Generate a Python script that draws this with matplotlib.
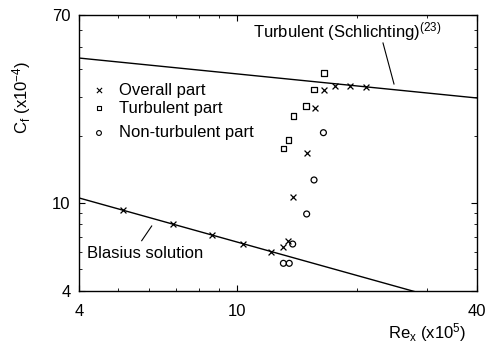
import matplotlib
matplotlib.use("Agg")
import matplotlib.pyplot as plt
from matplotlib.ticker import FixedLocator, NullFormatter, FixedFormatter

plt.rcParams['font.family'] = ['Liberation Sans', 'DejaVu Sans']
plt.rcParams['mathtext.fontset'] = 'custom'
plt.rcParams['mathtext.rm'] = 'Liberation Sans'
plt.rcParams['mathtext.it'] = 'Liberation Sans'

# Data (Re_x in 1e5, Cf in 1e-4)
overall_x = [5.17, 6.90, 8.62, 10.35, 12.15, 13.0, 13.43, 13.82, 14.93, 15.67, 16.53, 17.59, 19.19, 21.0]
overall_y = [9.27, 7.99, 7.17, 6.51, 5.98, 6.29, 6.74, 10.64, 16.68, 26.77, 32.2, 33.6, 33.6, 33.3]
turb_x = [13.05, 13.43, 13.82, 14.87, 15.6, 16.5]
turb_y = [17.57, 19.15, 24.56, 27.25, 32.4, 38.25]
nonturb_x = [13.05, 13.5, 13.77, 14.93, 15.58, 16.45]
nonturb_y = [5.33, 5.33, 6.51, 8.89, 12.65, 20.66]
schlichting_x = [4, 40]
schlichting_y = [44.8, 29.6]
blasius_x = [4, 40]
blasius_y = [10.5, 3.32]

fig = plt.figure(figsize=(4.86, 3.48), dpi=100)
ax = fig.add_axes([79/486, 1-291/348, (477-79)/486, (291-15)/348])
ax.set_xscale('log')
ax.set_yscale('log')
ax.set_xlim(4, 40)
ax.set_ylim(4, 70)

ax.plot(schlichting_x, schlichting_y, color='black', lw=1.0)
ax.plot(blasius_x, blasius_y, color='black', lw=1.0)

ax.scatter(overall_x, overall_y, marker='x', s=18, color='black', linewidths=0.9, zorder=3)
ax.scatter(turb_x, turb_y, marker='s', s=16, facecolors='none', edgecolors='black', linewidths=0.9, zorder=3)
ax.scatter(nonturb_x, nonturb_y, marker='o', s=18, facecolors='none', edgecolors='black', linewidths=0.9, zorder=3)

fs = 12

def px2ax(x, y):
    return ((x - 79) / 398, (291 - y) / 276)

# Legend (manual)
leg = [('x', 'Overall part', 90), ('s', 'Turbulent part', 108), ('o', 'Non-turbulent part', 133)]
for m, lab, py in leg:
    mx, my = px2ax(99, py)
    if m == 'x':
        ax.scatter([mx], [my], marker='x', s=14, color='black', linewidths=0.8, transform=ax.transAxes, clip_on=False)
    else:
        ax.scatter([mx], [my], marker=m, s=12, facecolors='none', edgecolors='black', linewidths=0.8, transform=ax.transAxes, clip_on=False)
    tx, ty = px2ax(119, py)
    ax.text(tx, ty, lab, transform=ax.transAxes, fontsize=fs, va='center', ha='left')

ax.text(*px2ax(253, 32), 'Turbulent (Schlichting)$^{(23)}$', transform=ax.transAxes, fontsize=fs, va='center', ha='left')
ax.plot(*zip(px2ax(383, 43), px2ax(394, 84)), transform=ax.transAxes, color='black', lw=0.8)
ax.text(*px2ax(87, 253), 'Blasius solution', transform=ax.transAxes, fontsize=fs, va='center', ha='left')
ax.plot(*zip(px2ax(151.7, 226), px2ax(141.7, 240.7)), transform=ax.transAxes, color='black', lw=0.8)

# Ticks
ax.xaxis.set_major_locator(FixedLocator([4, 10, 40]))
ax.xaxis.set_major_formatter(FixedFormatter(['4', '10', '40']))
ax.xaxis.set_minor_locator(FixedLocator([5, 6, 7, 8, 9, 20, 30]))
ax.xaxis.set_minor_formatter(NullFormatter())
ax.yaxis.set_major_locator(FixedLocator([4, 10, 70]))
ax.yaxis.set_major_formatter(FixedFormatter(['4', '10', '70']))
ax.yaxis.set_minor_locator(FixedLocator([5, 6, 7, 8, 9, 20, 30, 40, 50, 60]))
ax.yaxis.set_minor_formatter(NullFormatter())
ax.tick_params(which='both', direction='in', top=True, right=True, labelsize=fs)
ax.tick_params(which='major', length=4, width=0.8)
ax.tick_params(axis='x', which='major', pad=9)
ax.tick_params(axis='y', which='major', pad=6)
ax.tick_params(which='minor', length=2.5, width=0.6)
for s in ax.spines.values():
    s.set_linewidth(1.0)

fig.text(466/486, 1-333/348, 'Re$_\\mathregular{x}$ (x10$^\\mathregular{5}$)', fontsize=fs, ha='right', va='center')
fig.text(22/486, 1-97/348, 'C$_\\mathregular{f}$ (x10$^\\mathregular{-4}$)', fontsize=fs, ha='center', va='center', rotation=90)

fig.savefig('out.png', dpi=100)
